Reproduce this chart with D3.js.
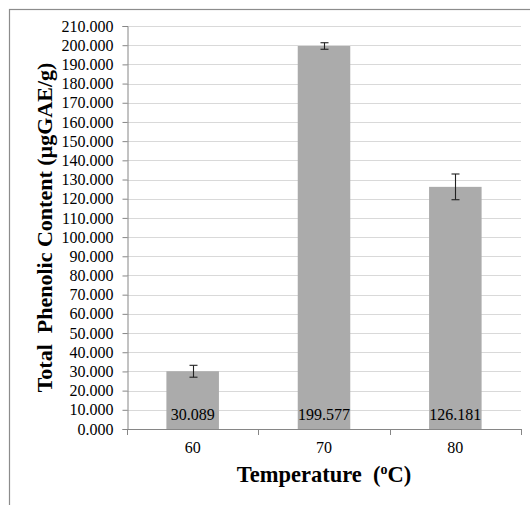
<!DOCTYPE html>
<html><head><meta charset="utf-8">
<script src="https://cdn.jsdelivr.net/npm/d3@7"></script>
</head><body style="margin:0">
<svg id="c" width="530" height="505" font-family="Times New Roman"></svg>
<script>
const categories = ["60", "70", "80"];
const values = [30.089, 199.577, 126.181];
const errors = [3.1, 1.7, 6.7];
const yTicks = d3.range(0, 211, 10);

const FONT = "Times New Roman";
const svg = d3.select("#c");
const m = {left:127, right:521, top:26, bottom:429};

svg.append("rect").attr("x",9.5).attr("y",9.5).attr("width",540).attr("height",520)
  .attr("fill","#fff").attr("stroke","#8c8c8c").attr("stroke-width",1.2);

const x = d3.scaleBand().domain(categories).range([m.left, m.right]).paddingInner(0.6).paddingOuter(0.3);
const y = d3.scaleLinear().domain([0,210]).range([m.bottom, m.top]);

// gridlines
svg.append("g").selectAll("line").data(yTicks.filter(d=>d>0)).join("line")
  .attr("x1",m.left).attr("x2",m.right)
  .attr("y1",d=>Math.round(y(d))+0.5).attr("y2",d=>Math.round(y(d))+0.5)
  .attr("stroke","#d9d9d9").attr("stroke-width",1);

// bars
svg.append("g").selectAll("rect").data(values).join("rect")
  .attr("x",(d,i)=>x(categories[i])).attr("width",x.bandwidth())
  .attr("y",d=>y(d)).attr("height",d=>y(0)-y(d))
  .attr("fill","#ababab");

// error bars
const eb = svg.append("g").attr("stroke","#222").attr("stroke-width",1.1);
values.forEach((v,i)=>{
  const cx = Math.round(x(categories[i])+x.bandwidth()/2)+0.5;
  eb.append("line").attr("x1",cx).attr("x2",cx).attr("y1",y(v+errors[i])).attr("y2",y(v-errors[i]));
  [v+errors[i], v-errors[i]].forEach(e=>{
    eb.append("line").attr("x1",cx-4).attr("x2",cx+4).attr("y1",y(e)).attr("y2",y(e));
  });
});

// data labels
svg.append("g").attr("font-family",FONT).attr("font-size",16)
  .selectAll("text").data(values).join("text")
  .attr("x",(d,i)=>x(categories[i])+x.bandwidth()/2).attr("y",420)
  .attr("text-anchor","middle").attr("fill","black")
  .text(d=>d.toFixed(3));

// y axis
const yAxis = svg.append("g").attr("transform",`translate(${m.left+0.5},0)`)
  .call(d3.axisLeft(y).tickValues(yTicks).tickFormat(d3.format(".3f")).tickSizeOuter(0).tickSize(5).tickPadding(9));
yAxis.attr("font-family",FONT).attr("font-size",16);
yAxis.select(".domain").attr("stroke","#868686");
yAxis.selectAll(".tick line").attr("stroke","#868686");
yAxis.selectAll("text").attr("fill","black");

// x axis
const xAxis = svg.append("g").attr("transform",`translate(0,${m.bottom+0.5})`)
  .call(d3.axisBottom(x).tickSize(0).tickPadding(12));
xAxis.attr("font-family",FONT).attr("font-size",16);
xAxis.select(".domain").attr("stroke","#868686").attr("d",`M${m.left},0H${m.right}`);
xAxis.selectAll("text").attr("fill","black");
const xb = [m.left, m.left+(m.right-m.left)/3, m.left+2*(m.right-m.left)/3, m.right];
svg.append("g").selectAll("line").data(xb).join("line")
  .attr("x1",d=>Math.round(d)+0.5).attr("x2",d=>Math.round(d)+0.5)
  .attr("y1",m.bottom).attr("y2",m.bottom+6).attr("stroke","#868686");

// axis titles
const xt = svg.append("text").attr("x",(m.left+m.right)/2).attr("y",482)
  .attr("text-anchor","middle").attr("font-size",22.5).attr("font-weight","bold").attr("fill","black")
  .attr("font-family",FONT);
xt.append("tspan").text("Temperature\u00A0 (");
xt.append("tspan").attr("font-size",14).attr("dy",-8).text("o");
xt.append("tspan").attr("dy",8).text("C)");

svg.append("text").attr("transform",`translate(52,${(m.top+m.bottom)/2}) rotate(-90)`)
  .attr("text-anchor","middle").attr("font-size",22).attr("font-weight","bold").attr("fill","black")
  .attr("font-family",FONT)
  .text("Total\u00A0 Phenolic Content (µgGAE/g)");
</script>
</body></html>
